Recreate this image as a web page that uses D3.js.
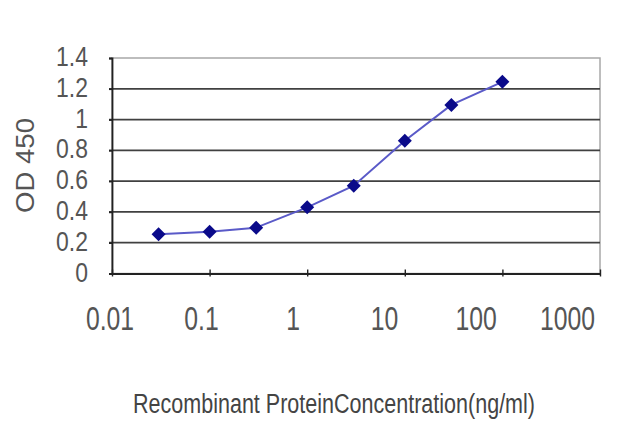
<!DOCTYPE html>
<html><head><meta charset="utf-8">
<script src="https://cdn.jsdelivr.net/npm/d3@7"></script>
<style>body{margin:0;background:#fff}svg{display:block}</style>
</head><body>
<svg id="c" width="640" height="427"></svg>
<script>
const concentrations = [0.03, 0.1, 0.3, 1, 3, 10, 30, 100];
const odValues = [0.255, 0.272, 0.298, 0.43, 0.57, 0.862, 1.095, 1.245];
const xTicks = [0.01, 0.1, 1, 10, 100, 1000];
const xTickLabels = ["0.01", "0.1", "1", "10", "100", "1000"];
const yTicks = [0, 0.2, 0.4, 0.6, 0.8, 1, 1.2, 1.4];
const yTickLabels = ["0", "0.2", "0.4", "0.6", "0.8", "1", "1.2", "1.4"];
const xTitle = "Recombinant ProteinConcentration(ng/ml)";
const yTitle = "OD 450";

const svg = d3.select("#c");
const L = 112, R = 600, T = 58, B = 273.5;
const x = d3.scaleLog().domain([0.01, 1000]).range([L, R]);
const y = d3.scaleLinear().domain([0, 1.4]).range([B, T]);
const font = "'Liberation Sans', Arial, sans-serif";

// plot border (top/right light)
svg.append("rect").attr("x", L).attr("y", T).attr("width", R - L).attr("height", B - T)
  .attr("fill", "none").attr("stroke", "#a8a8a8").attr("stroke-width", 1.5);

// gridlines
svg.append("g").selectAll("line").data(yTicks.filter(d => d > 0 && d < 1.4)).join("line")
  .attr("x1", L - 3).attr("x2", R).attr("y1", d => y(d)).attr("y2", d => y(d))
  .attr("stroke", "#404040").attr("stroke-width", 1.8);

// y axis
const yAxis = svg.append("g").attr("transform", `translate(${L},0)`)
  .call(d3.axisLeft(y).tickValues(yTicks).tickSize(3).tickFormat((d, i) => yTickLabels[i]));
yAxis.select(".domain").attr("stroke", "#222").attr("stroke-width", 1.8);
yAxis.selectAll(".tick line").attr("stroke", "#222").attr("stroke-width", 1.6);
yAxis.selectAll(".tick text")
  .attr("x", 0).attr("dy", 0)
  .attr("transform", "translate(-24,7.5) scale(0.82,1)")
  .attr("fill", "#555").style("font-family", font).style("font-size", "28px");

// x axis
const xAxis = svg.append("g").attr("transform", `translate(0,${B})`)
  .call(d3.axisBottom(x).tickValues(xTicks).tickSize(0).tickFormat((d, i) => xTickLabels[i]));
xAxis.select(".domain").attr("stroke", "#222").attr("stroke-width", 1.8);
xAxis.selectAll(".tick").append("line").attr("y1", -4).attr("y2", 3)
  .attr("stroke", "#222").attr("stroke-width", 1.4);
xAxis.selectAll(".tick text")
  .attr("y", 0).attr("dy", 0)
  .attr("transform", d => `translate(${-2.5 - (x(d) - L) * 0.0624},56.5) scale(0.75,1)`)
  .attr("fill", "#555").style("font-family", font).style("font-size", "33px");

// line
svg.append("path").datum(concentrations.map((c, i) => [c, odValues[i]]))
  .attr("fill", "none").attr("stroke", "#5a5ac8").attr("stroke-width", 2)
  .attr("d", d3.line().x(d => x(d[0])).y(d => y(d[1])));

// markers (rotated squares)
svg.append("g").selectAll("path").data(concentrations).join("path")
  .attr("transform", (d, i) => `translate(${x(d)},${y(odValues[i])}) rotate(45)`)
  .attr("d", d3.symbol(d3.symbolSquare, 98)())
  .attr("fill", "#0a0a8a");

// titles
svg.append("text").attr("x", 334).attr("y", 413).attr("text-anchor", "middle")
  .attr("textLength", 402).attr("lengthAdjust", "spacingAndGlyphs")
  .attr("fill", "#444").style("font-family", font).style("font-size", "27px").text(xTitle);
svg.append("text").attr("transform", "translate(33.5,165.5) rotate(-90)").attr("text-anchor", "middle")
  .attr("textLength", 95).attr("lengthAdjust", "spacingAndGlyphs")
  .attr("fill", "#555").style("font-family", font).style("font-size", "26px").text(yTitle);
</script>
</body></html>
